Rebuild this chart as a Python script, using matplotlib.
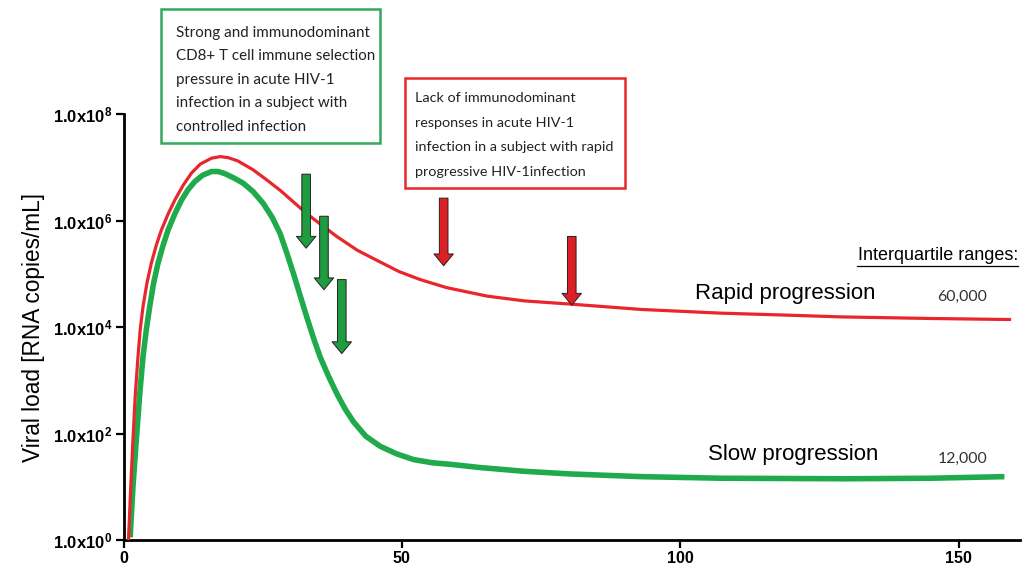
import numpy as np
import matplotlib
matplotlib.use('Agg')
import matplotlib.pyplot as plt
from matplotlib.patches import Rectangle
from matplotlib.lines import Line2D

plt.rcParams['font.family'] = ['Liberation Sans', 'DejaVu Sans']
plt.rcParams['mathtext.fontset'] = 'custom'
plt.rcParams['mathtext.bf'] = 'Liberation Sans:bold'
plt.rcParams['mathtext.rm'] = 'Liberation Sans'
plt.rcParams['mathtext.default'] = 'bf'

# --- data (days, log10 viral load)
rapid_days = [0.9, 1.3, 1.7, 2.1, 2.6, 3.0, 3.5, 4.2, 5.0, 5.9, 6.8, 8.0, 9.2, 10.7, 12.2,
              13.8, 15.8, 17.4, 18.8, 20.5, 22.0, 23.3, 25.5, 28.1, 30.5, 32.9, 35.5, 38.3,
              42.0, 46.1, 49.5, 53.3, 58.0, 65.3, 72.0, 80.3, 92.9, 107.3, 120.0, 128.8,
              145.0, 159.4]
rapid_log = [0.0, 1.0, 1.88, 2.7, 3.44, 3.95, 4.38, 4.82, 5.20, 5.54, 5.82, 6.12, 6.38, 6.66, 6.89,
             7.06, 7.17, 7.20, 7.18, 7.12, 7.03, 6.95, 6.78, 6.57, 6.35, 6.13, 5.92, 5.70,
             5.44, 5.22, 5.04, 4.89, 4.74, 4.58, 4.49, 4.43, 4.33, 4.26, 4.22, 4.19,
             4.16, 4.14]

slow_days = [1.2, 1.7, 2.3, 2.9, 3.5, 4.1, 4.7, 5.4, 6.2, 7.1, 8.0, 9.2, 10.4, 11.6, 12.8,
             14.2, 15.8, 17.0, 18.2, 19.8, 21.5, 23.3, 25.1, 26.7, 28.1, 29.3, 30.5, 31.7,
             32.9, 34.1, 35.3, 36.8, 38.3, 39.8, 41.3, 43.5, 46.1, 49.0, 52.1, 55.5, 58.8,
             64.1, 72.0, 80.3, 92.9, 107.3, 130.0, 145.0, 158.2]
slow_log = [0.05, 1.0, 1.88, 2.72, 3.44, 3.95, 4.38, 4.82, 5.20, 5.53, 5.82, 6.12, 6.38, 6.58, 6.73,
            6.85, 6.92, 6.92, 6.88, 6.80, 6.70, 6.54, 6.32, 6.06, 5.76, 5.40, 5.01, 4.60,
            4.19, 3.80, 3.44, 3.08, 2.75, 2.46, 2.22, 1.95, 1.76, 1.62, 1.51, 1.45, 1.42,
            1.36, 1.29, 1.24, 1.19, 1.16, 1.15, 1.16, 1.19]

# selection-pressure arrows: (day, log top, log tip)
green_arrows = [(32.8, 6.87, 5.48), (36.0, 6.08, 4.70), (39.2, 4.89, 3.50)]
red_arrows = [(57.5, 6.42, 5.15), (80.5, 5.70, 4.41)]

ytick_exp = [0, 2, 4, 6, 8]
xticks = [0, 50, 100, 150]

green_text = ["Strong and immunodominant",
              "CD8+ T cell immune selection",
              "pressure in acute HIV-1",
              "infection in a subject with",
              "controlled infection"]
red_text = ["Lack of immunodominant",
            "responses in acute HIV-1",
            "infection in a subject with rapid",
            "progressive HIV-1infection"]

RED = '#e8262b'
GREEN = '#1faa4b'

fig = plt.figure(figsize=(10.22, 5.71), dpi=100)
ax = fig.add_axes([123.5 / 1022, 1 - 540 / 571, (1020 - 123.5) / 1022, (540 - 114) / 571])

ax.plot(rapid_days, 10 ** np.array(rapid_log), color=RED, lw=2.3,
        solid_capstyle='butt', solid_joinstyle='round', zorder=3)
ax.plot(slow_days, 10 ** np.array(slow_log), color=GREEN, lw=4.0,
        solid_capstyle='butt', solid_joinstyle='round', zorder=2)

ax.set_yscale('log')
ax.set_ylim(1, 1e8)
ax.set_xlim(0, 161)
ax.set_yticks([10.0 ** e for e in ytick_exp])
ax.set_yticklabels([r'1.0x10$^{%d}$' % e for e in ytick_exp], fontsize=12, fontweight='bold')
ax.yaxis.set_minor_locator(matplotlib.ticker.NullLocator())
ax.set_xticks(xticks)
ax.set_xticklabels([str(t) for t in xticks], fontsize=11.5, fontweight='bold')
ax.tick_params(width=1.6, length=6, direction='out', pad=2)
for s in ['top', 'right']:
    ax.spines[s].set_visible(False)
for s in ['left', 'bottom']:
    ax.spines[s].set_linewidth(2)
ax.set_ylabel('Viral load [RNA copies/mL]', fontsize=16.3, labelpad=6)

for arrows, fc in [(green_arrows, '#1f9c40'), (red_arrows, '#dc2024')]:
    for x, top, tip in arrows:
        ax.annotate('', xy=(x, 10 ** tip), xytext=(x, 10 ** top),
                    arrowprops=dict(arrowstyle='simple,head_width=1.4,head_length=0.85,tail_width=0.62',
                                    mutation_scale=10, fc=fc, ec='#222222', lw=0.7,
                                    shrinkA=0, shrinkB=0), zorder=5)

# curve labels
ax.text(102.7, 10 ** 4.62, 'Rapid progression', fontsize=16, va='center', ha='left')
ax.text(104.9, 10 ** 1.60, 'Slow progression', fontsize=16, va='center', ha='left')
ax.text(146.1, 10 ** 4.56, '60,000', fontsize=11.4, family='Lato', color='#333333', va='center')
ax.text(146.2, 10 ** 1.52, '12,000', fontsize=11.4, family='Lato', color='#333333', va='center')

W, H = 1022, 571
fig.text(1018 / W, 1 - 256 / H, 'Interquartile ranges:', fontsize=13, ha='right', va='center')
fig.add_artist(Line2D([857 / W, 1018 / W], [1 - 266 / H, 1 - 266 / H], color='black', lw=0.9))

# annotation boxes
fig.add_artist(Rectangle((161 / W, 1 - 143 / H), (380 - 161) / W, (143 - 9.5) / H,
                         transform=fig.transFigure, fill=False, ec='#34a85c', lw=1.8))
for i, line in enumerate(green_text):
    fig.text(176 / W, 1 - (32.7 + 23.5 * i) / H, line, fontsize=10.9, family='Lato',
             va='center', ha='left', color='#222222')

fig.add_artist(Rectangle((405 / W, 1 - 188 / H), (625 - 405) / W, (188 - 77.5) / H,
                         transform=fig.transFigure, fill=False, ec=RED, lw=1.8))
for i, line in enumerate(red_text):
    fig.text(415 / W, 1 - (98.3 + 24.5 * i) / H, line, fontsize=10.4, family='Lato',
             va='center', ha='left', color='#222222')

fig.savefig('out.png', dpi=100)
